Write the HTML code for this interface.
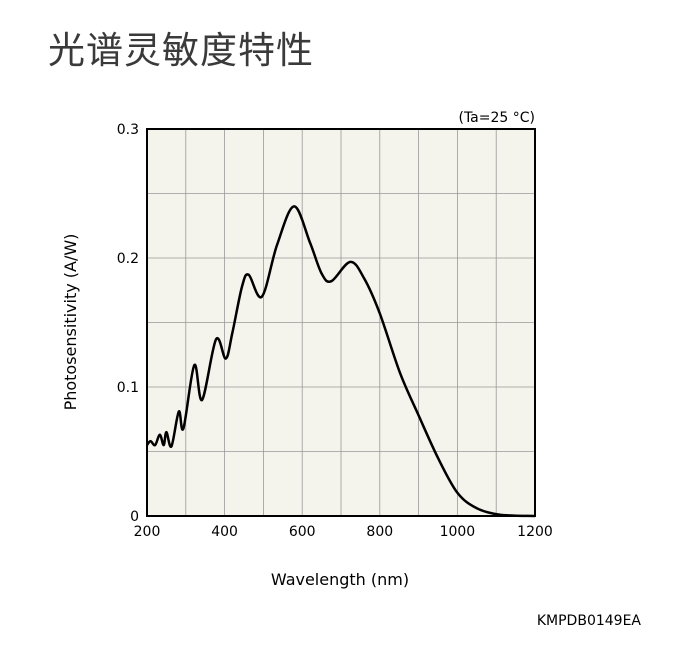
<!DOCTYPE html>
<html><head><meta charset="utf-8"><style>
body{margin:0;background:#fff;width:678px;height:663px;overflow:hidden;font-family:"Liberation Sans","DejaVu Sans",sans-serif}
</style></head><body>
<div style="position:absolute;left:48px;top:20px;font-size:37px;color:#3a3a3a;font-family:'Liberation Sans','Noto Sans CJK SC',sans-serif;letter-spacing:1px">光谱灵敏度特性</div>
<svg id="chart" width="678" height="663" style="position:absolute;left:0;top:0" font-family="DejaVu Sans, Liberation Sans, sans-serif"></svg>
<script>
const wavelengths=[200,209,221,233,243,250,263,282,294,322,342,378,403,420,445,462,496,535,579,620,650,675,724,760,800,852,900,950,1000,1050,1110,1200];
const sensitivity=[0.055,0.058,0.055,0.063,0.055,0.065,0.054,0.081,0.068,0.117,0.090,0.137,0.122,0.142,0.178,0.187,0.170,0.210,0.240,0.212,0.188,0.182,0.197,0.184,0.157,0.111,0.078,0.045,0.018,0.006,0.001,0];
const xTicks=[200,400,600,800,1000,1200];
const yTicks=[0,0.1,0.2,0.3];
const xTickLabels=["200","400","600","800","1000","1200"];
const yTickLabels=["0","0.1","0.2","0.3"];
const svg=document.getElementById('chart');const NS='http://www.w3.org/2000/svg';
const L=147,R=535,T=129,B=516;
const xs=v=>L+(v-200)/1000*(R-L);const ys=v=>B-v/0.3*(B-T);
function mk(t,a,p){const e=document.createElementNS(NS,t);for(const k in a)e.setAttribute(k,a[k]);(p||svg).appendChild(e);return e;}
const bg=mk('rect',{x:L,y:T,width:R-L,height:B-T,fill:'#f4f3ec'});


for(let w=300;w<1200;w+=100){const g=mk('line',{x1:xs(w),x2:xs(w),y1:T,y2:B,stroke:'#999','stroke-width':0.8});

}
for(let v=0.05;v<0.29;v+=0.05){const g=mk('line',{x1:L,x2:R,y1:ys(v),y2:ys(v),stroke:'#999','stroke-width':0.8});

}
const fr=mk('rect',{x:L,y:T,width:R-L,height:B-T,fill:'none',stroke:'#000','stroke-width':2});


const P=wavelengths.map((w,i)=>[xs(w),ys(sensitivity[i])]);
let d='M'+P[0][0]+','+P[0][1];
for(let i=0;i<P.length-1;i++){const p0=P[Math.max(0,i-1)],p1=P[i],p2=P[i+1],p3=P[Math.min(P.length-1,i+2)];
d+=` C${p1[0]+(p2[0]-p0[0])/6},${p1[1]+(p2[1]-p0[1])/6} ${p2[0]-(p3[0]-p1[0])/6},${p2[1]-(p3[1]-p1[1])/6} ${p2[0]},${p2[1]}`;}
const line=mk('path',{d:d,fill:'none',stroke:'#000','stroke-width':2.5,'stroke-linejoin':'round'});


xTicks.forEach((v,i)=>{const t=mk('text',{x:xs(v),y:536,'font-size':14,'text-anchor':'middle',fill:'#000'});t.textContent=xTickLabels[i];

});
yTicks.forEach((v,i)=>{const t=mk('text',{x:139,y:ys(v)+5,'font-size':14,'text-anchor':'end',fill:'#000'});t.textContent=yTickLabels[i];

});
const xt=mk('text',{x:340,y:585,'font-size':16,'text-anchor':'middle'});xt.textContent='Wavelength (nm)';


const yt=mk('text',{x:0,y:0,'font-size':16,'text-anchor':'middle',transform:'translate(76,322) rotate(-90)'});yt.textContent='Photosensitivity (A/W)';


const cond=mk('text',{x:535,y:122,'font-size':14,'text-anchor':'end'});cond.textContent='(Ta=25 °C)';


const code=mk('text',{x:641,y:625,'font-size':14,'text-anchor':'end'});code.textContent='KMPDB0149EA';


</script>
</body></html>
